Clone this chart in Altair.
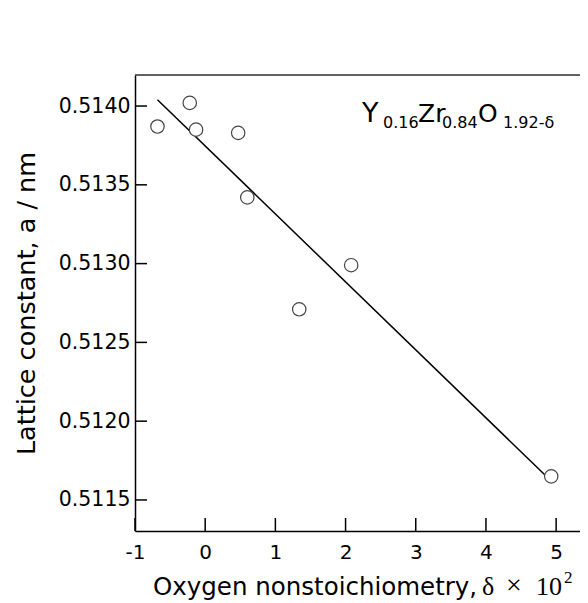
import altair as alt
import pandas as pd

# ---- data ----
delta = [-0.68, -0.22, -0.13, 0.47, 0.60, 1.34, 2.08, 4.93]
lattice = [0.51387, 0.51402, 0.51385, 0.51383, 0.51342, 0.51271, 0.51299, 0.51165]
fit_delta = [-0.68, 4.93]
fit_lattice = [0.51404, 0.51162]
x_ticks = [-1, 0, 1, 2, 3, 4, 5]
y_ticks = [0.5115, 0.5120, 0.5125, 0.5130, 0.5135, 0.5140]

# annotation pieces (formula)
ann_text = ["Y", "0.16", "Zr", "0.84", "O", "1.92-δ"]
ann_px = [227, 248, 283, 307, 343, 368]
ann_py = [46.7, 53.3, 46.7, 53.3, 46.7, 53.3]
ann_fs = [27, 16, 25, 16, 25, 16]

# x-axis title pieces
xt_sans = ["Oxygen nonstoichiometry,"]
xt_sans_px = [18]
xt_sans_py = [520]
xt_serif = ["δ", "×", "10", "2"]
xt_serif_px = [347, 371, 401, 429]
xt_serif_py = [520, 519, 520, 508]
xt_serif_fs = [26, 28, 26, 17]

W, H = 445, 456
XDOM = [-1, 5.34]
YDOM = [0.511303, 0.514197]

pts = pd.DataFrame({"delta": delta, "a": lattice})
fit = pd.DataFrame({"delta": fit_delta, "a": fit_lattice})
xt = pd.DataFrame({"v": x_ticks})
yt = pd.DataFrame({"v": y_ticks})
ann = pd.DataFrame({"t": ann_text, "px": ann_px, "py": ann_py, "fs": ann_fs})
xs = pd.DataFrame({"t": xt_sans, "px": xt_sans_px, "py": xt_sans_py})
xr = pd.DataFrame({"t": xt_serif, "px": xt_serif_px, "py": xt_serif_py, "fs": xt_serif_fs})

xscale = alt.Scale(domain=XDOM, nice=False, zero=False)
yscale = alt.Scale(domain=YDOM, nice=False, zero=False)

xaxis = alt.Axis(values=x_ticks, labelExpr="'' + datum.value", title=None,
                 ticks=False, tickSize=0, labelPadding=11, grid=False,
                 labelFlush=False, labelOverlap=False,
                 domainColor="black", domainWidth=1.5,
                 labelFont="DejaVu Sans", labelFontSize=20, labelColor="black")
yaxis = alt.Axis(values=y_ticks, format=".4f", title="Lattice constant, a / nm",
                 ticks=False, tickSize=0, labelPadding=5, grid=False,
                 labelFlush=False, labelOverlap=False,
                 domainColor="black", domainWidth=1.5,
                 labelFont="DejaVu Sans", labelFontSize=20.5, labelColor="black",
                 titleFont="DejaVu Sans", titleFontSize=25.5, titleFontWeight="normal",
                 titleColor="black", titlePadding=19)

line = alt.Chart(fit).mark_line(color="black", strokeWidth=1.5).encode(
    x=alt.X("delta:Q", scale=xscale, axis=xaxis),
    y=alt.Y("a:Q", scale=yscale, axis=yaxis),
)

points = alt.Chart(pts).mark_point(
    shape="circle", filled=True, fill="white", stroke="#444", strokeWidth=1.2,
    size=180, opacity=1
).encode(
    x=alt.X("delta:Q", scale=xscale),
    y=alt.Y("a:Q", scale=yscale),
)

ytick_rules = alt.Chart(yt).mark_rule(color="black", strokeWidth=1.5).encode(
    y=alt.Y("v:Q", scale=yscale),
    x=alt.value(0), x2=alt.value(12),
)
xtick_rules = alt.Chart(xt).mark_rule(color="black", strokeWidth=1.5).encode(
    x=alt.X("v:Q", scale=xscale),
    y=alt.value(H), y2=alt.value(H - 13),
)
top_border = alt.Chart(pd.DataFrame({"k": [0]})).mark_rule(color="#333", strokeWidth=1.5).encode(
    x=alt.value(0), x2=alt.value(W), y=alt.value(0),
)

ann_layer = alt.Chart(ann).mark_text(
    font="DejaVu Sans", align="left", baseline="alphabetic", color="black"
).encode(
    x=alt.X("px:Q", scale=None), y=alt.Y("py:Q", scale=None),
    size=alt.Size("fs:Q", scale=None, legend=None), text="t:N",
)

xs_layer = alt.Chart(xs).mark_text(
    font="DejaVu Sans", fontSize=24.5, align="left", baseline="alphabetic", color="black"
).encode(
    x=alt.X("px:Q", scale=None), y=alt.Y("py:Q", scale=None), text="t:N",
)
xr_layer = alt.Chart(xr).mark_text(
    font="Liberation Serif", align="left", baseline="alphabetic", color="black"
).encode(
    x=alt.X("px:Q", scale=None), y=alt.Y("py:Q", scale=None),
    size=alt.Size("fs:Q", scale=None, legend=None), text="t:N",
)

chart = alt.layer(
    line, points, ytick_rules, xtick_rules, top_border, ann_layer, xs_layer, xr_layer
).properties(
    width=W, height=H,
    autosize=alt.AutoSizeParams(type="none"),
    padding={"left": 127, "top": 67, "right": 0, "bottom": 72},
).configure_view(stroke=None).configure(background="white")

chart.save("out.html", embed_options={"renderer": "svg", "actions": False})
